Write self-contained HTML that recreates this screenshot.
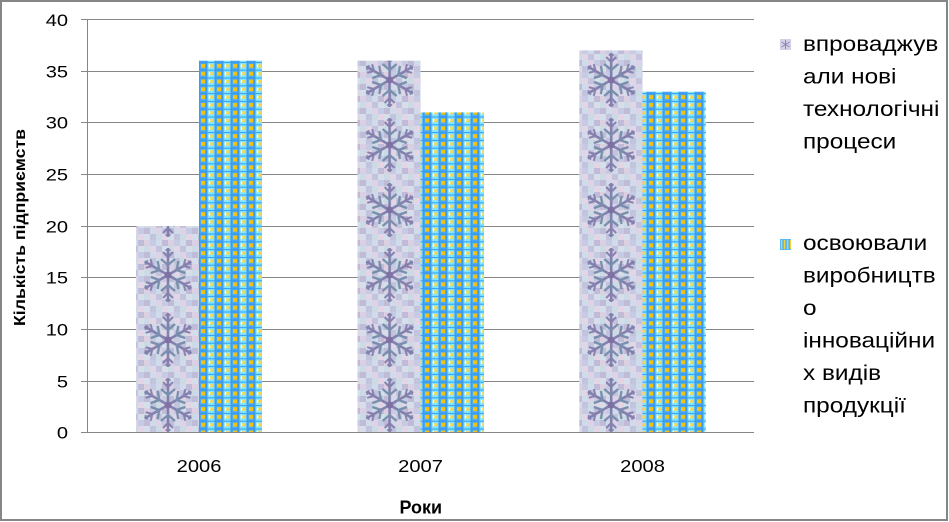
<!DOCTYPE html>
<html><head><meta charset="utf-8"><style>
html,body{margin:0;padding:0;background:#fff;}
svg{display:block;}
text{font-family:"Liberation Sans","DejaVu Sans",sans-serif;fill:#000;}
</style></head><body>
<svg width="949" height="522" viewBox="0 0 949 522" xmlns="http://www.w3.org/2000/svg">
<defs>
  <pattern id="checker" patternUnits="userSpaceOnUse" x="0" y="0" width="24" height="24">
    <rect x="0" y="0" width="6" height="6" fill="#dccfe2"/><rect x="6" y="0" width="6" height="6" fill="#c6cae2"/><rect x="12" y="0" width="6" height="6" fill="#cfdbea"/><rect x="18" y="0" width="6" height="6" fill="#c0bcd8"/>
    <rect x="0" y="6" width="6" height="6" fill="#cbdbe6"/><rect x="6" y="6" width="6" height="6" fill="#e2d6e6"/><rect x="12" y="6" width="6" height="6" fill="#c3c3de"/><rect x="18" y="6" width="6" height="6" fill="#d6deea"/>
    <rect x="0" y="12" width="6" height="6" fill="#c0bcd8"/><rect x="6" y="12" width="6" height="6" fill="#cfdbea"/><rect x="12" y="12" width="6" height="6" fill="#ded2e6"/><rect x="18" y="12" width="6" height="6" fill="#c6cae2"/>
    <rect x="0" y="18" width="6" height="6" fill="#d6deea"/><rect x="6" y="18" width="6" height="6" fill="#c3c3de"/><rect x="12" y="18" width="6" height="6" fill="#cbdbe6"/><rect x="18" y="18" width="6" height="6" fill="#e2d6e6"/>
  </pattern>
  <g id="arm">
    <path d="M0 0 L0 -27" stroke="#7a78a8" stroke-width="2.6" fill="none"/>
    <path d="M0 -10 L-7 -16 M0 -10 L7 -16" stroke="#6f88a6" stroke-width="2.4" fill="none"/>
    <path d="M0 -18 L-5 -23 M0 -18 L5 -23" stroke="#8078aa" stroke-width="2" fill="none"/>
    <path d="M-2.5 -25 L2.5 -25" stroke="#7a78a8" stroke-width="1.8" fill="none"/>
  </g>
  <g id="flake" opacity="0.9">
    <use href="#arm"/>
    <use href="#arm" transform="rotate(60)"/>
    <use href="#arm" transform="rotate(120)"/>
    <use href="#arm" transform="rotate(180)"/>
    <use href="#arm" transform="rotate(240)"/>
    <use href="#arm" transform="rotate(300)"/>
    <circle cx="0" cy="0" r="3.5" fill="#76669c"/>
  </g>
  <pattern id="snow" patternUnits="userSpaceOnUse" x="0" y="47.5" width="221.6" height="65">
    <use href="#flake" transform="translate(168,32.5)"/>
  </pattern>
  <pattern id="blue" patternUnits="userSpaceOnUse" x="199" y="0" width="16" height="7.8">
    <rect x="0" y="0" width="16" height="7.8" fill="#3a9cef"/>
    <rect x="1" y="1" width="6" height="6" fill="#48aaf4"/>
    <rect x="2" y="1.5" width="4" height="4" fill="#f2c20e"/>
    <rect x="8.5" y="0.5" width="7" height="6.8" fill="#86e4ff"/>
    <rect x="11" y="2" width="3" height="3" fill="#f2d850"/>
    <rect x="9.8" y="2" width="1.4" height="3" fill="#ffffff"/>
  </pattern>
  <pattern id="iconblue" patternUnits="userSpaceOnUse" x="780" y="239" width="3" height="11">
    <rect x="0" y="0" width="3" height="11" fill="#5ab8f4"/>
    <rect x="1" y="1" width="1.2" height="9" fill="#f2d040"/>
  </pattern>
</defs>

<rect x="0" y="0" width="949" height="522" fill="#fff"/>

<!-- gridlines -->
<g stroke="#868686" stroke-width="1" shape-rendering="crispEdges">
  <line x1="81" y1="19.5" x2="754" y2="19.5"/>
  <line x1="81" y1="71.5" x2="754" y2="71.5"/>
  <line x1="81" y1="122.5" x2="754" y2="122.5"/>
  <line x1="81" y1="174.5" x2="754" y2="174.5"/>
  <line x1="81" y1="226.5" x2="754" y2="226.5"/>
  <line x1="81" y1="277.5" x2="754" y2="277.5"/>
  <line x1="81" y1="329.5" x2="754" y2="329.5"/>
  <line x1="81" y1="381.5" x2="754" y2="381.5"/>
</g>

<!-- bars -->
<rect x="136" y="226" width="63" height="207" fill="url(#checker)"/>
<rect x="136" y="226" width="63" height="207" fill="url(#snow)"/>
<rect x="199" y="60.7" width="63" height="372.3" fill="url(#blue)"/>

<rect x="357.5" y="60.7" width="63" height="372.3" fill="url(#checker)"/>
<rect x="357.5" y="60.7" width="63" height="372.3" fill="url(#snow)"/>
<rect x="420.5" y="112.4" width="63.5" height="320.6" fill="url(#blue)"/>

<rect x="579.3" y="50.4" width="63.2" height="382.6" fill="url(#checker)"/>
<rect x="579.3" y="50.4" width="63.2" height="382.6" fill="url(#snow)"/>
<rect x="642.5" y="91.7" width="63.3" height="341.3" fill="url(#blue)"/>

<!-- axes -->
<g stroke="#868686" stroke-width="1" shape-rendering="crispEdges">
  <line x1="87.5" y1="19" x2="87.5" y2="433"/>
  <line x1="81" y1="432.5" x2="754" y2="432.5"/>
</g>

<!-- y labels -->
<g font-size="17" text-anchor="end">
  <text transform="translate(68,26) scale(1.18,1)">40</text>
  <text transform="translate(68,77.5) scale(1.18,1)">35</text>
  <text transform="translate(68,128.5) scale(1.18,1)">30</text>
  <text transform="translate(68,180.5) scale(1.18,1)">25</text>
  <text transform="translate(68,232.5) scale(1.18,1)">20</text>
  <text transform="translate(68,283.5) scale(1.18,1)">15</text>
  <text transform="translate(68,335.5) scale(1.18,1)">10</text>
  <text transform="translate(68,387.5) scale(1.18,1)">5</text>
  <text transform="translate(68,438.5) scale(1.18,1)">0</text>
</g>

<!-- x labels -->
<g font-size="17.5" text-anchor="middle">
  <text transform="translate(199,472) scale(1.15,1)">2006</text>
  <text transform="translate(420.5,472) scale(1.15,1)">2007</text>
  <text transform="translate(642.5,472) scale(1.15,1)">2008</text>
</g>

<!-- axis titles -->
<text x="399.5" y="513.5" font-size="18" font-weight="bold" textLength="42.5" lengthAdjust="spacingAndGlyphs">Роки</text>
<text transform="translate(25,326) rotate(-90)" x="0" y="0" font-size="16" font-weight="bold" textLength="197" lengthAdjust="spacingAndGlyphs">Кількість підприємств</text>

<!-- legend -->
<rect x="780" y="39" width="11" height="11" fill="#d4d0e6"/>
<g stroke="#8a88b8" stroke-width="1">
  <line x1="785.5" y1="40" x2="785.5" y2="49"/>
  <line x1="781.5" y1="42" x2="789.5" y2="47"/>
  <line x1="781.5" y1="47" x2="789.5" y2="42"/>
</g>
<g font-size="21">
  <text transform="translate(803,51) scale(1.16,1)">впроваджув</text>
  <text transform="translate(803,83.5) scale(1.16,1)">али нові</text>
  <text transform="translate(803,116) scale(1.16,1)">технологічні</text>
  <text transform="translate(803,148.5) scale(1.16,1)">процеси</text>
</g>
<rect x="780" y="239" width="11" height="11" fill="url(#iconblue)"/>
<g font-size="21">
  <text transform="translate(803,250) scale(1.16,1)">освоювали</text>
  <text transform="translate(803,282.5) scale(1.16,1)">виробництв</text>
  <text transform="translate(803,315) scale(1.16,1)">о</text>
  <text transform="translate(803,347.5) scale(1.16,1)">інноваційни</text>
  <text transform="translate(803,380) scale(1.16,1)">х видів</text>
  <text transform="translate(803,412.5) scale(1.16,1)">продукції</text>
</g>

<!-- outer border -->
<rect x="1" y="1" width="946" height="519" fill="none" stroke="#868686" stroke-width="2"/>
</svg>
</body></html>
